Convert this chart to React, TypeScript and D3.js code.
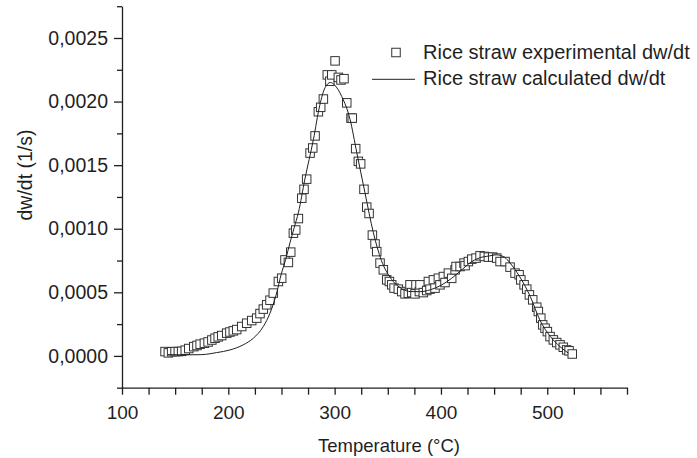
import React, { useEffect, useRef } from 'react';
import * as d3 from 'd3';

const WIDTH = 697;
const HEIGHT = 458;
const FONT = '"Liberation Sans", Arial, Helvetica, sans-serif';
const INK = '#1f1f1f';

// experimental dw/dt
const expTemp = [
  140.5, 143.6, 146.7, 149.9, 153.0, 156.1, 159.5, 162.8, 167.5, 170.5,
  173.5, 177.5, 181.0, 184.5, 187.5, 190.5, 193.8, 198.5, 201.5, 204.7,
  207.9, 212.6, 217.3, 222.0, 226.7, 229.8, 232.9, 236.1, 239.2, 242.3,
  247.1, 250.2, 253.3, 256.5, 258.7, 261.2, 263.4, 265.9, 269.1, 271.2,
  273.7, 276.9, 279.4, 281.6, 284.7, 286.9, 289.4, 293.1, 295.5, 297.3,
  300.4, 303.5, 306.0, 308.8, 311.4, 315.4, 316.6, 319.8, 322.3, 324.5,
  327.6, 330.2, 332.4, 335.5, 338.0, 339.6, 342.7, 345.8, 349.0, 351.5,
  353.7, 355.9, 359.9, 363.1, 366.2, 369.3, 370.9, 372.5, 375.6, 376.5,
  379.7, 380.3, 383.4, 386.6, 388.2, 389.7, 392.9, 394.4, 397.6, 399.1,
  402.3, 403.8, 407.0, 410.1, 413.3, 414.2, 418.0, 421.7, 422.7, 425.8,
  429.0, 433.0, 436.8, 440.8, 444.6, 448.7, 452.5, 455.6, 460.3, 465.0,
  469.7, 473.5, 475.1, 478.2, 480.7, 483.2, 486.3, 490.1, 491.6, 493.9,
  495.7, 497.9, 500.1, 502.6, 505.7, 508.9, 512.0, 515.1, 518.3, 520.5,
  523.5,
];
const expRate = [
  0.000034, 0.000024, 0.000033, 0.000034, 0.000034, 0.000036, 0.000045, 0.000058, 0.000073, 0.000082,
  0.000092, 0.000100, 0.000110, 0.000125, 0.000139, 0.000150, 0.000160, 0.000179, 0.000188, 0.000197,
  0.000207, 0.000231, 0.000257, 0.000278, 0.000297, 0.000333, 0.000368, 0.000402, 0.000438, 0.000494,
  0.000585, 0.000611, 0.000755, 0.000735, 0.000816, 0.000965, 0.000990, 0.001080, 0.001240, 0.001310,
  0.001390, 0.001595, 0.001635, 0.001730, 0.001920, 0.001955, 0.002020, 0.002210, 0.002160, 0.002210,
  0.002320, 0.002190, 0.002170, 0.002180, 0.001990, 0.001870, 0.001870, 0.001630, 0.001530, 0.001510,
  0.001310, 0.001170, 0.001120, 0.000950, 0.000880, 0.000820, 0.000730, 0.000677, 0.000598, 0.000585,
  0.000559, 0.000533, 0.000525, 0.000506, 0.000488, 0.000493, 0.000559, 0.000498, 0.000488, 0.000559,
  0.000506, 0.000559, 0.000498, 0.000514, 0.000585, 0.000525, 0.000598, 0.000533, 0.000611, 0.000559,
  0.000624, 0.000577, 0.000651, 0.000610, 0.000677, 0.000703, 0.000703, 0.000730, 0.000710, 0.000742,
  0.000761, 0.000769, 0.000787, 0.000782, 0.000777, 0.000777, 0.000769, 0.000742, 0.000742, 0.000698,
  0.000651, 0.000638, 0.000598, 0.000559, 0.000525, 0.000480, 0.000441, 0.000383, 0.000349, 0.000297,
  0.000244, 0.000218, 0.000191, 0.000152, 0.000126, 0.000105, 0.000087, 0.000068, 0.000047, 0.000040,
  0.000015,
];

// calculated dw/dt curve
const calcTemp = [
  143, 160, 175, 189, 201.6, 214, 223.5, 232.9, 239.2, 245,
  250, 254, 258, 262, 266, 272, 280, 286, 291, 296,
  300, 306.7, 314.5, 320.8, 328.6, 336.4, 344, 352, 358, 364,
  371, 380, 390, 400, 410, 420, 427, 436, 446, 452,
  460, 465, 474, 484, 493, 503, 512, 520,
];
const calcRate = [
  0.000010, 0.000008, 0.000010, 0.000026, 0.000047, 0.000087, 0.000139, 0.000231, 0.000336, 0.000480,
  0.000650, 0.000760, 0.000890, 0.001010, 0.001130, 0.001390, 0.001700, 0.001970, 0.002110, 0.002150,
  0.002130, 0.002040, 0.001860, 0.001600, 0.001280, 0.000970, 0.000750, 0.000620, 0.000560, 0.000525,
  0.000506, 0.000505, 0.000520, 0.000555, 0.000610, 0.000680, 0.000730, 0.000770, 0.000787, 0.000795,
  0.000775, 0.000730, 0.000624, 0.000467, 0.000283, 0.000152, 0.000073, 0.000021,
];

const xMajorTicks = [100, 200, 300, 400, 500];
const xMinorTicks = [125, 150, 175, 225, 250, 275, 325, 350, 375, 425, 450, 475, 525, 550, 575];
const yMajorTicks = [0, 0.0005, 0.001, 0.0015, 0.002, 0.0025];
const yMinorTicks = [-0.00025, 0.00025, 0.00075, 0.00125, 0.00175, 0.00225, 0.00275];

const legendLabels = ['Rice straw experimental dw/dt', 'Rice straw calculated dw/dt'];

export default function App() {
  const svgRef = useRef<SVGSVGElement>(null);

  useEffect(() => {
    if (!svgRef.current) return;
    const svg = d3.select(svgRef.current);
    svg.selectAll('*').remove();

    const x = d3.scaleLinear().domain([100, 575]).range([122, 627]);
    const y = d3.scaleLinear().domain([-0.00025, 0.00275]).range([387.7, 6.2]);
    const fmtY = (d: number) => d3.format('.4f')(d).replace('.', ',');

    const styleAxis = (g: any, size: number) => {
      g.attr('font-family', FONT).attr('font-size', size);
      g.selectAll('path, line').attr('stroke', INK).attr('stroke-width', 1.3);
      g.selectAll('text').attr('fill', INK);
    };

    // x axis
    svg.append('g')
      .attr('transform', `translate(0,${y(-0.00025)})`)
      .call(d3.axisBottom(x).tickValues(xMinorTicks).tickSize(7).tickFormat(() => ''))
      .call((g: any) => g.select('.domain').remove())
      .call((g: any) => styleAxis(g, 19));
    svg.append('g')
      .attr('transform', `translate(0,${y(-0.00025)})`)
      .call(d3.axisBottom(x).tickValues(xMajorTicks).tickSize(7).tickSizeOuter(0).tickPadding(11).tickFormat(d3.format('d')))
      .call((g: any) => styleAxis(g, 19));

    // y axis
    svg.append('g')
      .attr('transform', `translate(${x(100)},0)`)
      .call(d3.axisLeft(y).tickValues(yMinorTicks).tickSize(5).tickFormat(() => ''))
      .call((g: any) => g.select('.domain').remove())
      .call((g: any) => styleAxis(g, 19.5));
    svg.append('g')
      .attr('transform', `translate(${x(100)},0)`)
      .call(d3.axisLeft(y).tickValues(yMajorTicks).tickSize(8).tickSizeOuter(0).tickPadding(6).tickFormat(fmtY as any))
      .call((g: any) => styleAxis(g, 19.5));

    // experimental squares
    const pts = expTemp.map((t, i) => ({ t, v: expRate[i] }));
    const s = 8.5;
    svg.append('g')
      .selectAll('rect')
      .data(pts)
      .join('rect')
      .attr('x', d => x(d.t) - s / 2)
      .attr('y', d => y(d.v) - s / 2)
      .attr('width', s)
      .attr('height', s)
      .attr('fill', '#fff')
      .attr('stroke', '#333')
      .attr('stroke-width', 1);

    // calculated curve
    const calc = calcTemp.map((t, i) => [t, calcRate[i]] as [number, number]);
    const line = d3.line<[number, number]>()
      .x(d => x(d[0]))
      .y(d => y(d[1]))
      .curve(d3.curveMonotoneX);
    svg.append('path')
      .datum(calc)
      .attr('d', line)
      .attr('fill', 'none')
      .attr('stroke', INK)
      .attr('stroke-width', 1);

    // legend
    const lg = svg.append('g').attr('font-family', FONT).attr('font-size', 20).attr('fill', INK);
    lg.append('rect')
      .attr('x', 396 - s / 2).attr('y', 52.5 - s / 2)
      .attr('width', s).attr('height', s)
      .attr('fill', '#fff').attr('stroke', '#333').attr('stroke-width', 1);
    lg.append('text').attr('x', 423).attr('y', 59).text(legendLabels[0]);
    lg.append('line')
      .attr('x1', 372).attr('x2', 415).attr('y1', 79.3).attr('y2', 79.3)
      .attr('stroke', INK).attr('stroke-width', 1);
    lg.append('text').attr('x', 423).attr('y', 85).text(legendLabels[1]);

    // axis titles
    svg.append('text')
      .attr('x', 389).attr('y', 451.5)
      .attr('text-anchor', 'middle')
      .attr('font-family', FONT).attr('font-size', 18.5).attr('fill', INK)
      .text('Temperature (°C)');
    svg.append('text')
      .attr('transform', 'translate(32,175) rotate(-90)')
      .attr('text-anchor', 'middle')
      .attr('font-family', FONT).attr('font-size', 19.5).attr('fill', INK)
      .text('dw/dt (1/s)');
  }, []);

  return (
    <div style={{ position: 'absolute', left: 0, top: 0, background: '#fff' }}>
      <svg ref={svgRef} width={WIDTH} height={HEIGHT} style={{ display: 'block' }} />
    </div>
  );
}
